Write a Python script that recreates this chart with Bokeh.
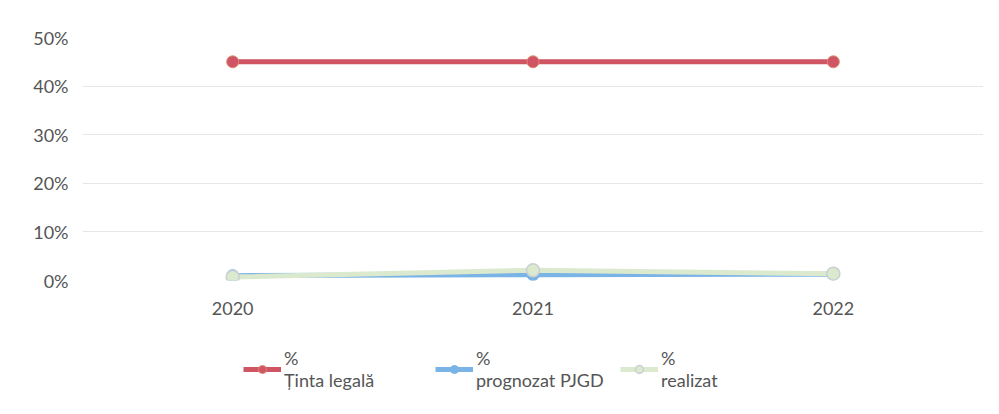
from bokeh.plotting import figure
from bokeh.layouts import column
from bokeh.models import (FactorRange, Range1d, NumeralTickFormatter, FixedTicker,
                          Legend, LegendItem, ColumnDataSource)
from bokeh.embed import file_html
from bokeh.resources import INLINE

years = ["2020", "2021", "2022"]
tinta_legala = [0.45, 0.45, 0.45]
prognozat_pjgd = [0.010, 0.012, 0.013]
realizat = [0.007, 0.021, 0.014]
y_ticks = [0.0, 0.1, 0.2, 0.3, 0.4, 0.5]
legend_labels = ["%\nȚinta legală", "%\nprognozat PJGD", "%\nrealizat"]

FONT = "Lato"
W = 983
red = "#cf5464"
blue = "#7ab3e6"
green = "#dbe9cf"

src = ColumnDataSource(dict(x=years, t=tinta_legala, pr=prognozat_pjgd, r=realizat))


def draw_series(fig):
    l1 = fig.line("x", "t", source=src, line_color=red, line_width=5)
    m1 = fig.scatter("x", "t", source=src, size=12, fill_color=red, line_color="#e0886c", line_width=1)
    l2 = fig.line("x", "pr", source=src, line_color=blue, line_width=5)
    m2 = fig.scatter("x", "pr", source=src, size=12, fill_color=blue, line_color=blue, line_width=1)
    l3 = fig.line("x", "r", source=src, line_color=green, line_width=5)
    m3 = fig.scatter("x", "r", source=src, size=13, fill_color=green, line_color="#c9cfd2", line_width=1.5)
    return [[l1, m1], [l2, m2], [l3, m3]]


p = figure(width=W, height=317, x_range=FactorRange(*years),
           y_range=Range1d(0, 0.5), output_backend="svg", toolbar_location=None,
           min_border_left=82, min_border_right=0, min_border_top=37, min_border_bottom=0)
p.outline_line_color = None
p.background_fill_color = "white"
draw_series(p)

p.yaxis.ticker = FixedTicker(ticks=y_ticks)
p.yaxis.formatter = NumeralTickFormatter(format="0%")
for ax in (p.xaxis, p.yaxis):
    ax.axis_line_color = None
    ax.major_tick_line_color = None
    ax.minor_tick_line_color = None
    ax.major_label_text_font = FONT
    ax.major_label_text_font_size = "18px"
    ax.major_label_text_color = "#555555"
p.yaxis.major_label_standoff = 8
p.xaxis.major_label_standoff = 15

p.xgrid.grid_line_color = None
p.ygrid.ticker = FixedTicker(ticks=y_ticks)
p.ygrid.grid_line_color = "#e6e6e6"
p.ygrid.grid_line_width = 1

# legend strip below the chart (series drawn out of view, used only as legend keys)
q = figure(width=W, height=81, x_range=FactorRange(*years), y_range=Range1d(10, 11),
           output_backend="svg", toolbar_location=None,
           x_axis_location=None, y_axis_location=None,
           min_border_left=0, min_border_right=0, min_border_top=0, min_border_bottom=0)
q.outline_line_color = None
q.xgrid.grid_line_color = None
q.ygrid.grid_line_color = None
keys = draw_series(q)

x_locs = [161, 353, 538]
for lab, rs, xl in zip(legend_labels, keys, x_locs):
    lg = Legend(items=[LegendItem(label=lab, renderers=rs)], location=(xl, 7))
    lg.label_text_font = FONT
    lg.label_text_font_size = "18px"
    lg.label_text_line_height = 1.3
    lg.label_text_color = "#555555"
    lg.glyph_width = 38
    lg.label_standoff = 3
    lg.padding = 0
    lg.margin = 0
    lg.border_line_color = None
    lg.background_fill_alpha = 0
    q.add_layout(lg, "center")

layout = column(p, q, spacing=0)
open("out.html", "w").write(file_html(layout, INLINE))
